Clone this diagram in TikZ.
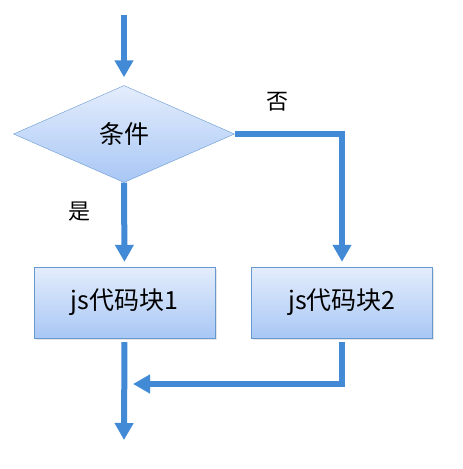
\documentclass[tikz,border=0pt]{standalone}
\usepackage{fontspec}
\newfontfamily\cjk{Noto Sans CJK SC}
\usepackage{tikz}
\usetikzlibrary{arrows.meta,shapes.geometric,shadows,positioning,calc}
\definecolor{flow}{RGB}{66,138,214}
\definecolor{boxtop}{RGB}{228,237,252}
\definecolor{boxbot}{RGB}{168,199,245}
\definecolor{boxline}{RGB}{104,152,208}
\tikzset{
  blk/.style={draw=boxline,thin,top color=boxtop,bottom color=boxbot,minimum width=181pt,minimum height=71pt,inner sep=0pt,font=\cjk\fontsize{25}{30}\selectfont,drop shadow={opacity=.2,shadow xshift=1.5pt,shadow yshift=-1.5pt}},
  cond/.style={diamond,draw=boxline,thin,top color=boxtop,bottom color=boxbot,minimum width=221pt,minimum height=97pt,inner sep=0pt,font=\cjk\fontsize{25}{30}\selectfont},
  flowline/.style={draw=flow,line width=6pt,-{Triangle[length=17pt,width=18pt]}},
  lbl/.style={font=\cjk\fontsize{22}{26}\selectfont}
}
\begin{document}
\begin{tikzpicture}[>=Latex,x=1pt,y=1pt]
\useasboundingbox (0,0) rectangle (463,-469);
\coordinate (start) at (124,-15);
\node[cond] (test) at (124,-134){条件};
\node[blk] (code1) at (124.5,-302.5){js代码块1};
\node[blk] (code2) at (342,-302.5){js代码块2};
\coordinate (end) at (124,-440);
\coordinate (turn) at (342,-384);
\coordinate (join) at (133,-384);
% flow
\draw[flowline,shorten >=8pt] (start)--(test.north);
\draw[flowline,shorten >=5pt] (test.south)--(code1.north);
\draw[flowline,shorten >=5pt] (test.east)-|(code2.north);
\draw[flowline,shorten <=4pt] (code1.south)--(end);
\draw[flowline,shorten <=4pt] (code2.south)--(turn)--(join);
\node[lbl] (no) at (277,-102){否};
\node[lbl] (yes) at (79,-212){是};
\end{tikzpicture}
\end{document}
